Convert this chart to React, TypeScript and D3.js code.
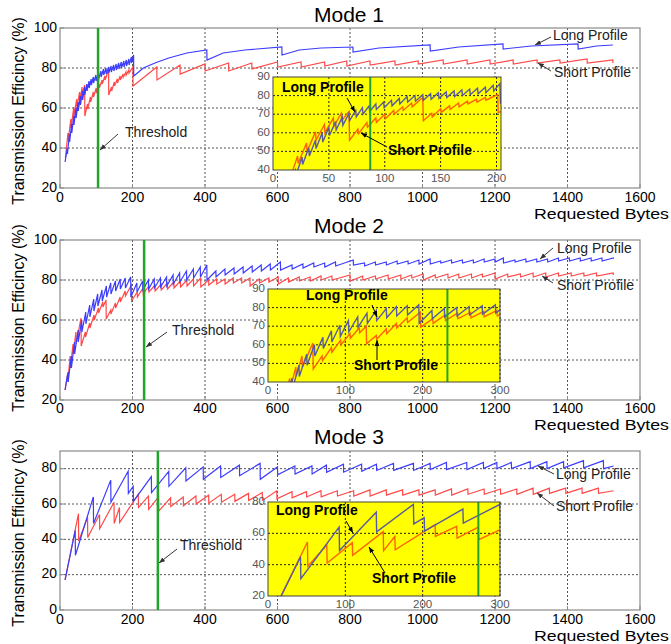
import React from "react";
import * as d3 from "d3";

const FONT = '"Liberation Sans", Arial, sans-serif';

// teeth are [bytes, value before the drop, value after the drop]
// ---- Mode 1 ----
const m1LongStart = [14, 33];
const m1LongTeeth = [
  [20, 40, 37], [26, 47, 43], [32, 52, 47.5], [38, 56, 51.5], [44, 60, 55],
  [50, 63, 58.5], [56, 66, 61.5], [62, 68.5, 64], [68, 70.5, 66.5], [74, 72, 68.5],
  [80, 73.5, 70], [86, 74.5, 71.5], [92, 75.5, 72.5], [99, 76.5, 73.5], [106, 77.5, 74.5],
  [113, 78.5, 75.5], [120, 79.5, 76.5], [127, 80, 77], [134, 80.5, 77.5], [141, 81, 78],
  [148, 81.5, 78.5], [155, 82, 79], [162, 82.5, 79.5], [169, 83, 80], [176, 83.5, 80.5],
  [183, 84, 81], [190, 84.5, 81.5], [197, 85.5, 82.5], [203, 86.5, 76],
  [230, 80, 80], [262, 82.5, 82.5], [300, 85, 85], [350, 87.5, 87.5], [405, 89, 84],
  [450, 87.5, 87.5], [510, 89, 89], [612, 90.5, 86.5], [660, 89, 89], [720, 90, 90],
  [808, 90.5, 88], [880, 90, 90], [1021, 91.5, 88.5], [1100, 90.5, 90.5], [1222, 92, 89.5],
  [1300, 91, 91], [1429, 92, 89.5], [1480, 91, 91], [1525, 91.5, 91.5],
];
const m1ShortStart = [15, 35];
const m1ShortTeeth = [
  [22, 47.5, 43.5], [30, 54.5, 50], [38, 60.5, 56], [46, 64.5, 60], [54, 68, 63.5],
  [61, 70.5, 66.5], [68, 71.5, 56], [76, 62, 59.5], [84, 65.5, 63], [92, 68, 65.5],
  [100, 70, 67.5], [108, 72, 70], [116, 74, 72], [124, 76, 74], [134, 79, 66.5],
  [142, 70.5, 68.5], [150, 73, 71], [158, 74.5, 72.5], [166, 76, 74], [174, 77, 75.5],
  [182, 78, 76.5], [190, 79, 77.5], [201, 80.5, 71],
  [267, 80.5, 74], [331, 81.5, 77], [400, 82, 78.5], [465, 82.5, 78.5], [529, 82.5, 79.5],
  [600, 83, 80.5], [665, 83, 80.5], [730, 83, 81], [791, 83.5, 81], [855, 83.5, 81.5],
  [924, 83.5, 81.5], [988, 83.5, 82], [1057, 84, 82], [1123, 84, 82], [1186, 84, 82],
  [1250, 84, 82], [1316, 84, 82.5], [1379, 84, 82.5], [1454, 84.5, 82.5], [1525, 84, 82.5],
];

// ---- Mode 2 ----
const m2LongStart = [14, 25];
const m2LongTeeth = [
  [22, 34, 29], [31, 42, 36], [40, 49, 43], [50, 55, 49], [60, 60, 54],
  [71, 64, 58], [82, 67.5, 61.5], [93, 70.5, 64.5], [104, 73, 67], [116, 75, 69.5],
  [128, 77, 71.5], [140, 78.5, 73], [153, 79.5, 74.5], [166, 80.5, 75.5], [180, 81, 76],
  [195, 81.5, 71.5], [212, 78.5, 74], [228, 79.5, 75], [244, 80, 75.5], [260, 80.5, 76],
  [277, 81, 76.5], [294, 81.5, 77], [312, 82.5, 78], [330, 83.5, 79], [349, 84.5, 80],
  [368, 85.5, 81], [387, 86.5, 81.5], [405, 87.5, 80], [430, 84.5, 81.5], [455, 85.5, 82.5],
  [480, 86, 83], [505, 86.5, 83.5], [530, 87, 84], [555, 87.5, 84.5], [580, 88, 85],
  [608, 89, 85], [640, 87.5, 85.5], [670, 88, 86], [700, 88.5, 86.5], [730, 88.5, 86.5],
  [760, 89, 87], [809, 90, 87.5], [840, 88.5, 87], [870, 89, 87.5], [900, 89, 87.5],
  [930, 89.5, 88], [960, 89.5, 88], [990, 90, 88], [1021, 90.5, 88], [1050, 89.5, 88.5],
  [1080, 90, 88.5], [1110, 90, 88.5], [1140, 90, 88.5], [1170, 90.5, 89], [1200, 90.5, 89],
  [1223, 91, 88.5], [1255, 90, 89], [1285, 90.5, 89], [1315, 90.5, 89], [1345, 90.5, 89],
  [1375, 91, 89.5], [1405, 91, 89.5], [1435, 91, 89.5], [1465, 91, 89.5], [1495, 91, 89.5],
  [1526, 91, 90.5],
];
const m2ShortStart = [14, 25];
const m2ShortTeeth = [
  [21, 33, 29], [28, 42, 36], [36, 48, 43], [44, 54, 48], [58, 61, 47],
  [70, 54, 51.5], [82, 58.5, 56], [94, 62.5, 60], [106, 66, 63.5], [118, 69, 66.5],
  [127, 70, 60.5], [140, 65, 63], [153, 68.5, 66], [166, 71.5, 69], [180, 74.5, 72],
  [197, 77.5, 69.5], [213, 74, 71.5], [229, 76, 73], [245, 77, 74], [262, 77.5, 74.5],
  [279, 78, 75], [296, 78.5, 75.5], [314, 79, 76], [332, 79.5, 76.5], [350, 80, 77],
  [368, 80.5, 77], [388, 81, 76.5], [410, 80, 77.5], [432, 80.5, 78], [455, 80.5, 78],
  [478, 81, 78.5], [501, 81, 78.5], [524, 81, 77], [550, 80.5, 78.5], [576, 81, 79],
  [602, 81.5, 78], [630, 81, 79], [660, 81.5, 79.5], [690, 81.5, 79.5], [720, 82, 80],
  [750, 82, 80], [800, 82.5, 79.5], [835, 82, 80], [870, 82, 80.5], [905, 82.5, 80.5],
  [940, 82.5, 80.5], [970, 82.5, 81], [1002, 83, 80], [1035, 82.5, 81], [1070, 83, 81],
  [1100, 83, 81], [1135, 83, 81], [1165, 83, 81.5], [1200, 83.5, 80.5], [1235, 83, 81.5],
  [1270, 83, 81.5], [1305, 83.5, 81.5], [1340, 83.5, 81.5], [1375, 83.5, 82], [1410, 83.5, 82],
  [1445, 83.5, 82], [1480, 83.5, 82], [1526, 83.5, 82.5],
];

// ---- Mode 3 ----
const m3LongStart = [14, 17];
const m3LongTeeth = [
  [42, 45, 31], [92, 64, 49], [140, 73.5, 61], [188, 78.5, 66], [202, 70, 61.5],
  [252, 75.5, 66.5], [300, 78.5, 70], [347, 80.5, 73], [395, 81, 74], [443, 81.5, 75],
  [495, 82, 76], [552, 83, 74], [600, 81, 76.5], [648, 81.5, 77], [695, 81.5, 77],
  [735, 82, 78], [782, 82.5, 78], [832, 82.5, 78.5], [873, 82.5, 79], [920, 83, 79],
  [975, 83, 79], [1021, 83, 79.5], [1066, 83.5, 79.5], [1122, 83.5, 79.5], [1168, 83.5, 80],
  [1205, 83.5, 80], [1245, 83.5, 80], [1297, 84, 80], [1343, 84, 80], [1389, 84, 80.5],
  [1444, 84.5, 80.5], [1499, 84.5, 80], [1527, 81.5, 81.5],
];
const m3ShortStart = [14, 17];
const m3ShortTeeth = [
  [51, 54.5, 39], [76, 52.5, 41], [109, 54, 46], [149, 61, 49], [164, 58, 49.5],
  [216, 65.5, 58], [244, 64.5, 57], [272, 64, 56], [305, 63.5, 58.5], [340, 64, 59],
  [375, 64.5, 60], [410, 65, 60.5], [445, 65.5, 61], [482, 65.5, 61.5], [520, 66, 62],
  [558, 66.5, 62], [598, 67.5, 63], [640, 67, 63.5], [680, 67, 64], [720, 67.5, 64],
  [765, 67.5, 64.5], [810, 67.5, 64.5], [855, 68, 64.5], [900, 68, 65], [945, 68, 65],
  [990, 68, 65], [1035, 68, 65], [1080, 68.5, 65], [1125, 68.5, 65.5], [1170, 68.5, 65.5],
  [1215, 68.5, 65.5], [1260, 68.5, 65.5], [1305, 69, 65.5], [1350, 69, 66], [1395, 69, 66],
  [1440, 69, 66], [1485, 69, 66], [1527, 67.5, 67.5],
];

const modeTitles = ["Mode 1", "Mode 2", "Mode 3"];
const xTicksMain = [0, 200, 400, 600, 800, 1000, 1200, 1400, 1600];
const yTicksMode12 = [20, 40, 60, 80, 100];
const yTicksMode3 = [0, 20, 40, 60, 80];
const thresholdMain = [105, 232, 270];
const thresholdInset = [87, 232, 272];
const insetXTicks1 = [0, 50, 100, 150, 200];
const insetXTicks23 = [0, 100, 200, 300];
const insetYTicks12 = [40, 50, 60, 70, 80, 90];
const insetYTicks3 = [20, 40, 60, 80];

const BLUE = "#3c3cff";
const RED = "#ff4848";
const SLATE = "#5a5aa0";
const ORANGE = "#ff6400";
const GREEN = "#22a32a";

const toPoints = (start: number[], teeth: number[][]) => {
  const pts: number[][] = [start];
  teeth.forEach(([b, hi, lo]) => {
    pts.push([b, hi]);
    if (lo !== hi) pts.push([b + 0.5, lo]);
  });
  return pts;
};

const panels = [
  {
    top: 28, bottom: 188, yDomain: [20, 100], yTicks: yTicksMode12,
    long: toPoints(m1LongStart, m1LongTeeth), short: toPoints(m1ShortStart, m1ShortTeeth),
    titleY: 22, xLabY: 202, rbY: 219, ylabY: 111,
    inset: { left: 273, right: 501, top: 77, bottom: 170, xDomain: [0, 204], yDomain: [40, 90], xTicks: insetXTicks1, yTicks: insetYTicks12 },
    notes: {
      long: [553, 40, 551, 37, 535, 45], short: [554, 77, 551, 71, 538, 63], thr: [125, 137, 118, 134, 100, 150],
      iLong: [282, 92, 347, 98, 355, 112], iShort: [388, 155, 387, 147, 361, 133],
    },
  },
  {
    top: 240, bottom: 400, yDomain: [20, 100], yTicks: yTicksMode12,
    long: toPoints(m2LongStart, m2LongTeeth), short: toPoints(m2ShortStart, m2ShortTeeth),
    titleY: 233, xLabY: 413, rbY: 430, ylabY: 318,
    inset: { left: 268, right: 500, top: 289, bottom: 382, xDomain: [0, 300], yDomain: [40, 90], xTicks: insetXTicks23, yTicks: insetYTicks12 },
    notes: {
      long: [557, 253, 553, 248, 540, 259], short: [557, 290, 553, 283, 542, 276], thr: [172, 335, 167, 332, 146, 347],
      iLong: [306, 300, 372, 305, 377, 317], iShort: [354, 370, 377, 360, 377, 340],
    },
  },
  {
    top: 451, bottom: 610, yDomain: [0, 90], yTicks: yTicksMode3,
    long: toPoints(m3LongStart, m3LongTeeth), short: toPoints(m3ShortStart, m3ShortTeeth),
    titleY: 444, xLabY: 624, rbY: 641, ylabY: 533,
    inset: { left: 268, right: 500, top: 502, bottom: 596, xDomain: [0, 300], yDomain: [20, 80], xTicks: insetXTicks23, yTicks: insetYTicks3 },
    notes: {
      long: [556, 479, 554, 474, 538, 466], short: [556, 511, 554, 506, 537, 493], thr: [180, 550, 177, 549, 159, 563],
      iLong: [276, 515, 346, 521, 353, 533], iShort: [372, 583, 385, 573, 369, 547],
    },
  },
];

const Note = ({ n, text, bold, color }: any) => (
  <g>
    <line x1={n[2]} y1={n[3]} x2={n[4]} y2={n[5]} stroke={color} strokeWidth={1} markerEnd={bold ? "url(#arrB)" : "url(#arrG)"} />
    <text x={n[0]} y={n[1]} fontSize={14} fontWeight={bold ? "bold" : "normal"} fill={bold ? "#000" : "#222"}>{text}</text>
  </g>
);

const Panel = ({ cfg, i }: any) => {
  const x = d3.scaleLinear().domain([0, 1600]).range([60, 640]);
  const y = d3.scaleLinear().domain(cfg.yDomain).range([cfg.bottom, cfg.top]);
  const line = d3.line<number[]>().x((d) => x(d[0])).y((d) => y(d[1]));
  const ins = cfg.inset;
  const ix = d3.scaleLinear().domain(ins.xDomain).range([ins.left, ins.right]);
  const iy = d3.scaleLinear().domain(ins.yDomain).range([ins.bottom, ins.top]);
  const iline = d3.line<number[]>().x((d) => ix(d[0])).y((d) => iy(d[1]));
  const n = cfg.notes;
  return (
    <g>
      <text x={349} y={cfg.titleY} textAnchor="middle" fontSize={21}>{modeTitles[i]}</text>
      {xTicksMain.slice(1, -1).map((t) => (
        <line key={"gx" + t} x1={x(t)} x2={x(t)} y1={cfg.top} y2={cfg.bottom} stroke="#555" strokeDasharray="2,2" />
      ))}
      {cfg.yTicks.filter((t: number) => y(t) > cfg.top + 1 && y(t) < cfg.bottom - 1).map((t: number) => (
        <line key={"gy" + t} x1={60} x2={640} y1={y(t)} y2={y(t)} stroke="#555" strokeDasharray="2,2" />
      ))}
      <rect x={60} y={cfg.top} width={580} height={cfg.bottom - cfg.top} fill="none" stroke="#8a8a8a" strokeWidth={1.2} />
      {xTicksMain.map((t) => (
        <g key={"tx" + t}>
          <line x1={x(t)} x2={x(t)} y1={cfg.bottom} y2={cfg.bottom - 4} stroke="#8a8a8a" />
          <text x={x(t)} y={cfg.xLabY} textAnchor="middle" fontSize={14}>{t}</text>
        </g>
      ))}
      {cfg.yTicks.map((t: number) => (
        <g key={"ty" + t}>
          <line x1={60} x2={64} y1={y(t)} y2={y(t)} stroke="#8a8a8a" />
          <text x={57} y={y(t)} textAnchor="end" dominantBaseline="middle" fontSize={14}>{t}</text>
        </g>
      ))}
      <text x={534} y={cfg.rbY} fontSize={15} textLength={135} lengthAdjust="spacingAndGlyphs">Requested Bytes</text>
      <text transform={`translate(24,${cfg.ylabY}) rotate(-90)`} textAnchor="middle" fontSize={16}>Transmission Efficincy (%)</text>

      <path d={line(cfg.short) || ""} fill="none" stroke={RED} strokeWidth={1.2} />
      <path d={line(cfg.long) || ""} fill="none" stroke={BLUE} strokeWidth={1.2} />
      <line x1={x(thresholdMain[i])} x2={x(thresholdMain[i])} y1={cfg.top} y2={cfg.bottom} stroke={GREEN} strokeWidth={2.5} />

      <Note n={n.long} text="Long Profile" color="#333" />
      <Note n={n.short} text="Short Profile" color="#333" />
      <Note n={n.thr} text="Threshold" color="#333" />

      {/* inset */}
      <clipPath id={"clip" + i}>
        <rect x={ins.left} y={ins.top} width={ins.right - ins.left} height={ins.bottom - ins.top} />
      </clipPath>
      <rect x={ins.left} y={ins.top} width={ins.right - ins.left} height={ins.bottom - ins.top} fill="#ffff00" />
      {ins.xTicks.filter((t: number) => t > ins.xDomain[0]).map((t: number) => (
        <line key={"igx" + t} x1={ix(t)} x2={ix(t)} y1={ins.top} y2={ins.bottom} stroke="#222" strokeDasharray="2,2" />
      ))}
      {ins.yTicks.filter((t: number) => t > ins.yDomain[0] && t < ins.yDomain[1]).map((t: number) => (
        <line key={"igy" + t} x1={ins.left} x2={ins.right} y1={iy(t)} y2={iy(t)} stroke="#222" strokeDasharray="2,2" />
      ))}
      <g clipPath={`url(#clip${i})`}>
        <path d={iline(cfg.short) || ""} fill="none" stroke={ORANGE} strokeWidth={1.4} />
        <path d={iline(cfg.long) || ""} fill="none" stroke={SLATE} strokeWidth={1.4} />
      </g>
      <line x1={ix(thresholdInset[i])} x2={ix(thresholdInset[i])} y1={ins.top} y2={ins.bottom} stroke={GREEN} strokeWidth={2} />
      <rect x={ins.left} y={ins.top} width={ins.right - ins.left} height={ins.bottom - ins.top} fill="none" stroke="#444" strokeWidth={1} />
      {ins.xTicks.map((t: number) => (
        <text key={"itx" + t} x={ix(t)} y={ins.bottom + 12} textAnchor="middle" fontSize={11.5} fill="#555">{t}</text>
      ))}
      {ins.yTicks.map((t: number) => (
        <text key={"ity" + t} x={ins.left - 3} y={iy(t)} textAnchor="end" dominantBaseline="middle" fontSize={11.5} fill="#555">{t}</text>
      ))}
      <Note n={n.iLong} text="Long Profile" bold color="#000" />
      <Note n={n.iShort} text="Short Profile" bold color="#000" />
    </g>
  );
};

export default function App() {
  return (
    <svg width={671} height={644} style={{ position: "absolute", left: 0, top: 0, background: "#fff" }} fontFamily={FONT}>
      <defs>
        <marker id="arrG" viewBox="0 0 10 10" refX={10} refY={5} markerWidth={6} markerHeight={6} orient="auto">
          <path d="M0,1 L10,5 L0,9 z" fill="#333" />
        </marker>
        <marker id="arrB" viewBox="0 0 10 10" refX={10} refY={5} markerWidth={6} markerHeight={6} orient="auto">
          <path d="M0,1 L10,5 L0,9 z" fill="#000" />
        </marker>
      </defs>
      <rect width={671} height={644} fill="#fff" />
      {panels.map((cfg, i) => (
        <Panel key={i} cfg={cfg} i={i} />
      ))}
    </svg>
  );
}
